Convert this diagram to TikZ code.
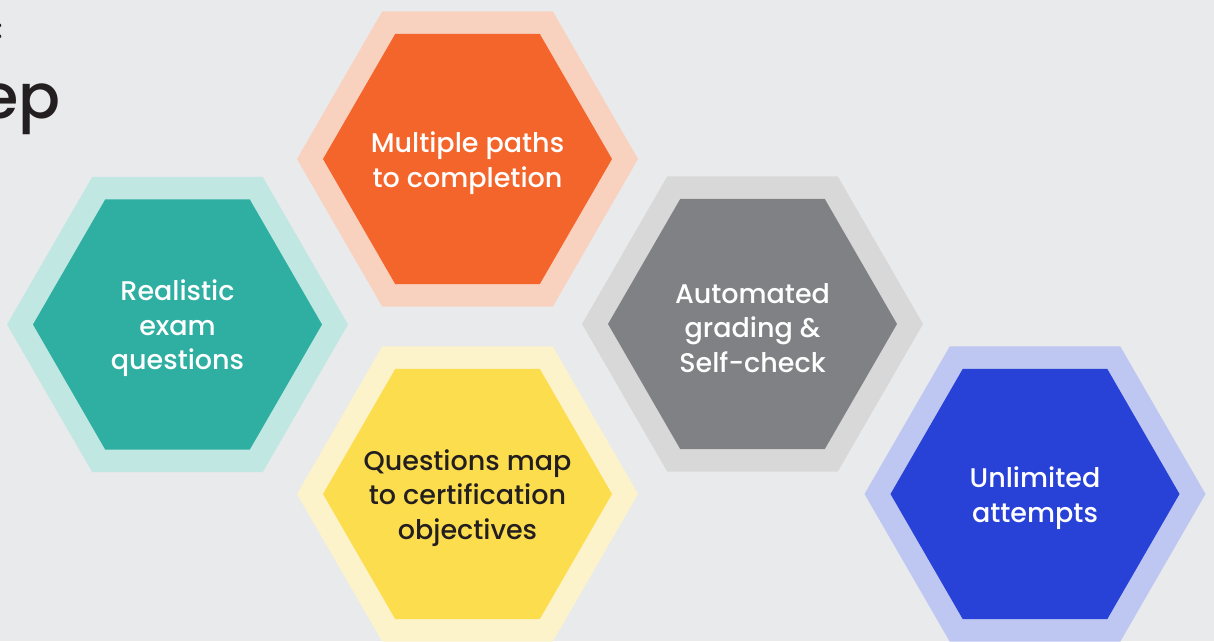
\documentclass[tikz,border=0pt]{standalone}
\usepackage{fontspec}
\newfontfamily\hexfont{Poppins Medium}
\usetikzlibrary{calc}
\definecolor{bg}{HTML}{E9EAEC}
\definecolor{tealD}{HTML}{2FAFA2}
\definecolor{tealL}{HTML}{C1E7E2}
\definecolor{orangeD}{HTML}{F4652B}
\definecolor{orangeL}{HTML}{F9D1BF}
\definecolor{grayD}{HTML}{808184}
\definecolor{grayL}{HTML}{D8D8D8}
\definecolor{yellowD}{HTML}{FCDD4E}
\definecolor{yellowL}{HTML}{FCF3CA}
\definecolor{blueD}{HTML}{2841D6}
\definecolor{blueL}{HTML}{BEC7F1}
\definecolor{ink}{HTML}{231F20}
\newcommand\hexa[3]{\fill[#3] ($(#1)+(0:#2pt)$) \foreach \a in {60,120,...,300}{ -- ($(#1)+(\a:#2pt)$)} -- cycle;}
\newcommand\hexcell[5]{% name, light, dark, textcolor, text
  \hexa{#1}{170.5}{#2}
  \hexa{#1}{144.5}{#3}
  \node[label text, text=#4, yshift=-4pt] (#1-t) at (#1) {#5};}
\tikzset{label text/.style={align=center, inner sep=0pt, font=\hexfont\fontsize{27}{34.5}\selectfont}}
\begin{document}
\begin{tikzpicture}[x=1pt,y=-1pt]
\fill[bg] (0,0) rectangle (1214,641);
\useasboundingbox (0,0) rectangle (1214,641);
\clip (0,0) rectangle (1214,641);
\node[anchor=base east, inner sep=0pt, text=ink, font=\hexfont\fontsize{62}{62}\selectfont] (title) at (61,118) {ep};
\node[anchor=base east, inner sep=0pt, text=ink, font=\hexfont\fontsize{26}{26}\selectfont] (sub) at (3,38) {:};
\coordinate (teal) at (177.5,324.5);
\coordinate (orange) at (467.5,159);
\coordinate (gray) at (752.5,324);
\coordinate (yellow) at (467.5,494);
\coordinate (blue) at (1035,494);
\hexcell{teal}{tealL}{tealD}{white}{Realistic\\exam\\questions}
\hexcell{orange}{orangeL}{orangeD}{white}{Multiple paths\\to completion}
\hexcell{gray}{grayL}{grayD}{white}{Automated\\grading \&\\Self-check}
\hexcell{yellow}{yellowL}{yellowD}{ink}{Questions map\\to certification\\objectives}
\hexcell{blue}{blueL}{blueD}{white}{Unlimited\\attempts}
\end{tikzpicture}
\end{document}
